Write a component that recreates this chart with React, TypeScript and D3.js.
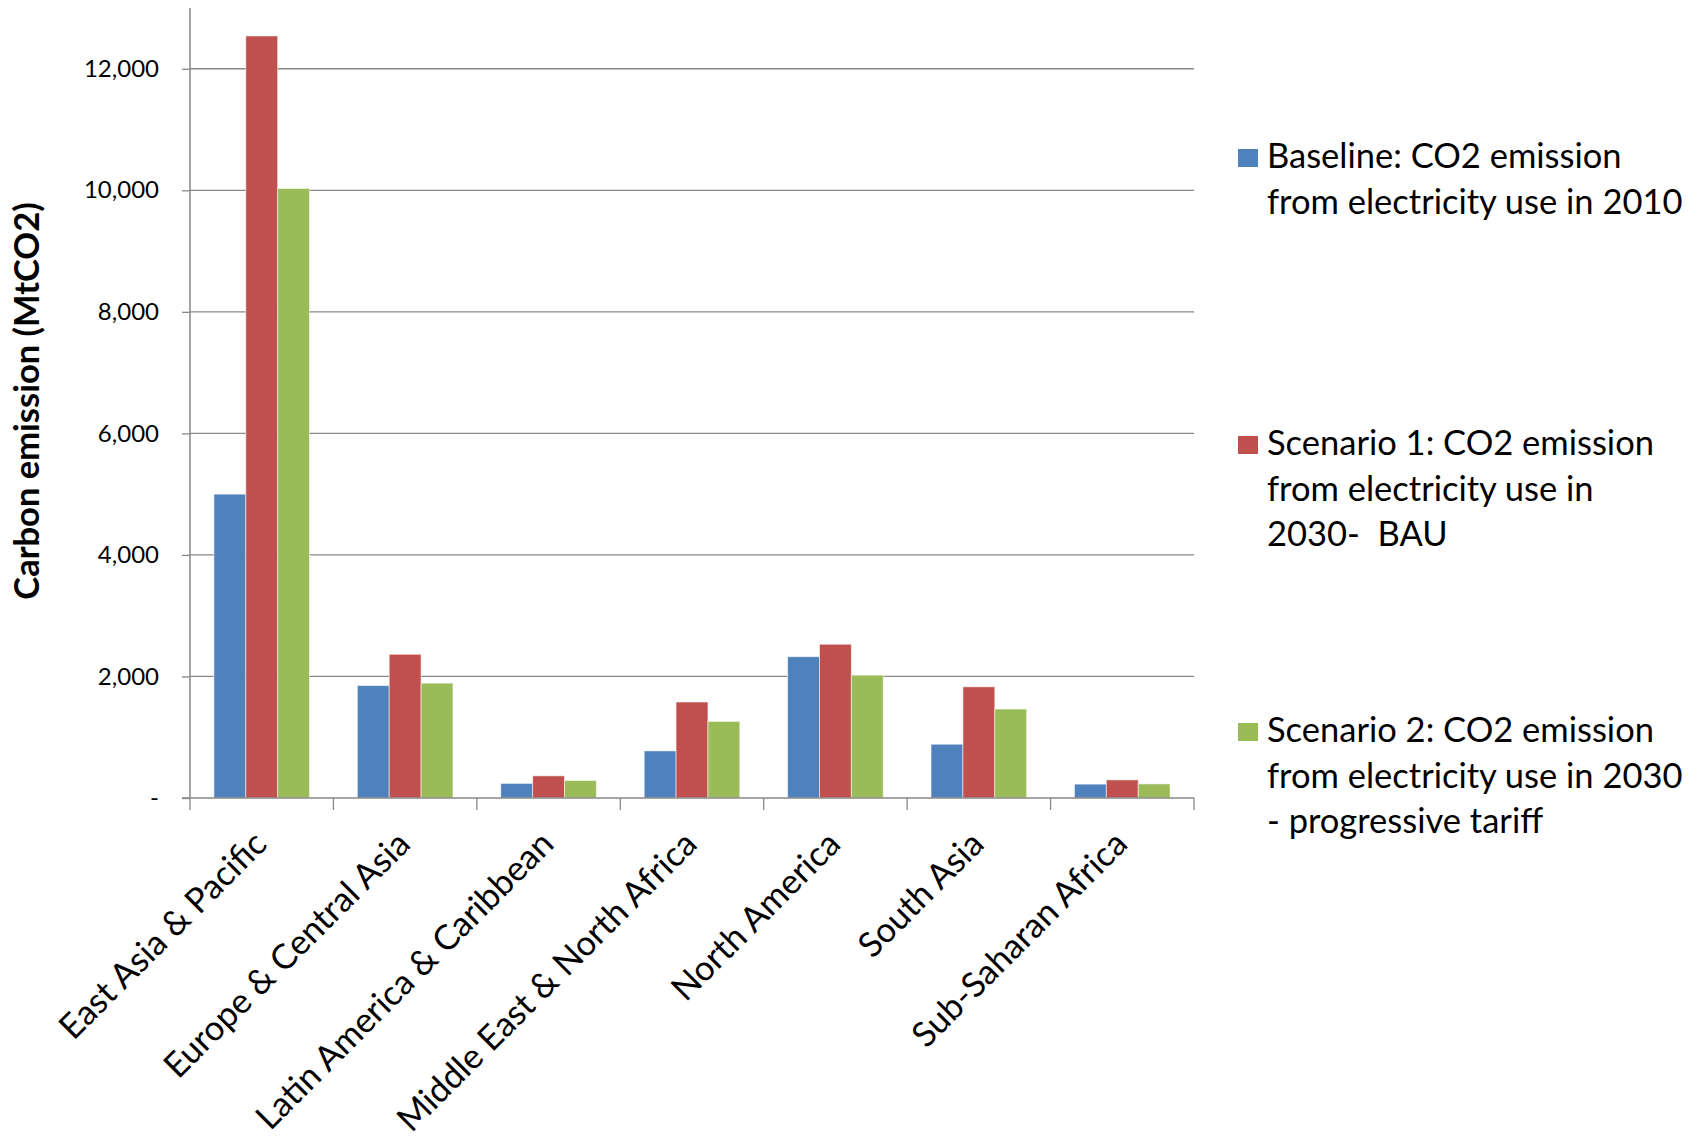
import React, { useEffect, useRef } from 'react'
import * as d3 from 'd3'

// regions on the x axis
const categories = [
    "East Asia & Pacific",
    "Europe & Central Asia",
    "Latin America & Caribbean",
    "Middle East & North Africa",
    "North America",
    "South Asia",
    "Sub-Saharan Africa",
]

// MtCO2
const baseline2010 = [5000, 1850, 240, 775, 2325, 885, 228]
const scenario1BAU = [12540, 2365, 365, 1580, 2530, 1830, 298]
const scenario2Tariff = [10030, 1890, 287, 1260, 2022, 1464, 232]

const seriesKeys = ["baseline", "bau", "tariff"]
const seriesColors = ["#4F81BD", "#C0504D", "#9BBB59"]
const legendLines = [
    ["Baseline: CO2 emission", "from electricity use in 2010"],
    ["Scenario 1: CO2 emission", "from electricity use in", "2030-  BAU"],
    ["Scenario 2: CO2 emission", "from electricity use in 2030", "- progressive tariff"],
]

const yTicks = [0, 2000, 4000, 6000, 8000, 10000, 12000]
const yMax = 13000

const FONT = "Lato, 'Open Sans', sans-serif"

function App() {
    const node = useRef<SVGSVGElement | null>(null)

    useEffect(() => {
        const fullw = 1702
        const fullh = 1142
        const margin = { top: 8, left: 190, right: 508, bottom: 344 }
        const plotw = fullw - margin.left - margin.right
        const ploth = fullh - margin.top - margin.bottom

        const rows = categories.map((c, i) => ({
            name: c,
            values: [baseline2010[i], scenario1BAU[i], scenario2Tariff[i]],
        }))

        const x0 = d3.scaleBand()
            .domain(categories)
            .range([0, plotw])
            .paddingInner(1 / 3)
            .paddingOuter(1 / 6)

        const x1 = d3.scaleBand()
            .domain(seriesKeys)
            .range([0, x0.bandwidth()])

        const y = d3.scaleLinear()
            .domain([0, yMax])
            .range([ploth, 0])

        d3.select(node.current).selectAll("*").remove()
        const svg = d3.select(node.current)
            .attr("width", fullw)
            .attr("height", fullh)

        const g = svg.append("g")
            .attr("transform", `translate(${margin.left},${margin.top})`)

        // gridlines
        g.append("g")
            .selectAll("line")
            .data(yTicks.filter(t => t > 0))
            .enter()
            .append("line")
            .attr("x1", 0)
            .attr("x2", plotw)
            .attr("y1", d => y(d))
            .attr("y2", d => y(d))
            .attr("stroke", "#888888")
            .attr("stroke-width", 1.3)

        // bars
        const groups = g.selectAll("g.cat")
            .data(rows)
            .enter()
            .append("g")
            .attr("class", "cat")
            .attr("transform", d => `translate(${x0(d.name)},0)`)

        groups.selectAll("rect")
            .data(d => d.values.map((v, i) => ({ key: seriesKeys[i], value: v, i })))
            .enter()
            .append("rect")
            .attr("x", d => x1(d.key) as number)
            .attr("y", d => y(d.value))
            .attr("width", x1.bandwidth())
            .attr("height", d => ploth - y(d.value))
            .attr("fill", d => seriesColors[d.i])
            .attr("stroke", "rgba(255,255,255,0.55)")
            .attr("stroke-width", 1)

        // y axis
        const yAxis = d3.axisLeft(y)
            .tickValues(yTicks)
            .tickSize(8)
            .tickPadding(23)
            .tickFormat(d => (+d === 0 ? "-" : d3.format(",")(+d)))
        const gY = g.append("g").call(yAxis)
        gY.select(".domain").attr("stroke", "#888888").attr("stroke-width", 1.5)
            .attr("d", `M-8,${ploth}H0V0`)
        gY.selectAll(".tick line").attr("stroke", "#888888").attr("stroke-width", 1.3)
        gY.selectAll(".tick text")
            .attr("fill", "#000")
            .style("font-family", FONT)
            .style("font-size", "24px")

        // x axis, ticks on the category boundaries
        const bounds = d3.range(categories.length + 1).map(i => i * x0.step())
        const gX = g.append("g").attr("transform", `translate(0,${ploth})`)
        gX.append("line")
            .attr("x1", 0).attr("x2", plotw)
            .attr("stroke", "#888888").attr("stroke-width", 1.5)
        gX.selectAll("line.tk")
            .data(bounds)
            .enter()
            .append("line")
            .attr("class", "tk")
            .attr("x1", d => d).attr("x2", d => d)
            .attr("y1", 0).attr("y2", 12)
            .attr("stroke", "#888888").attr("stroke-width", 1.3)

        gX.selectAll("text")
            .data(categories)
            .enter()
            .append("text")
            .attr("transform", d => `translate(${(x0(d) as number) + x0.bandwidth() / 2 + 7},48) rotate(-45)`)
            .attr("text-anchor", "end")
            .style("font-family", FONT)
            .style("font-size", "34.5px")
            .attr("fill", "#000")
            .text(d => d)

        // y title
        svg.append("text")
            .attr("transform", `translate(39,${margin.top + ploth / 2 - 2}) rotate(-90)`)
            .attr("text-anchor", "middle")
            .style("font-family", FONT)
            .style("font-size", "34.5px")
            .style("font-weight", "bold")
            .attr("fill", "#000")
            .text("Carbon emission (MtCO2)")

        // legend
        const legend = svg.append("g").attr("transform", "translate(1238,0)")
        const items = legend.selectAll("g")
            .data(legendLines)
            .enter()
            .append("g")
            .attr("transform", (d, i) => `translate(0,${168 + i * 287})`)
        items.append("rect")
            .attr("x", 0)
            .attr("y", -19)
            .attr("width", 20)
            .attr("height", 18)
            .attr("fill", (d, i) => seriesColors[i])
        items.each(function (lines) {
            const t = d3.select(this).append("text")
                .style("font-family", FONT)
                .style("font-size", "34.5px")
                .style("white-space", "pre")
                .attr("fill", "#000")
            lines.forEach((l, j) => {
                t.append("tspan").attr("x", 29).attr("y", j * 45.5).text(l)
            })
        })
    }, [])

    return <svg ref={node} style={{ position: "absolute", left: 0, top: 0 }}></svg>
}

export default App
